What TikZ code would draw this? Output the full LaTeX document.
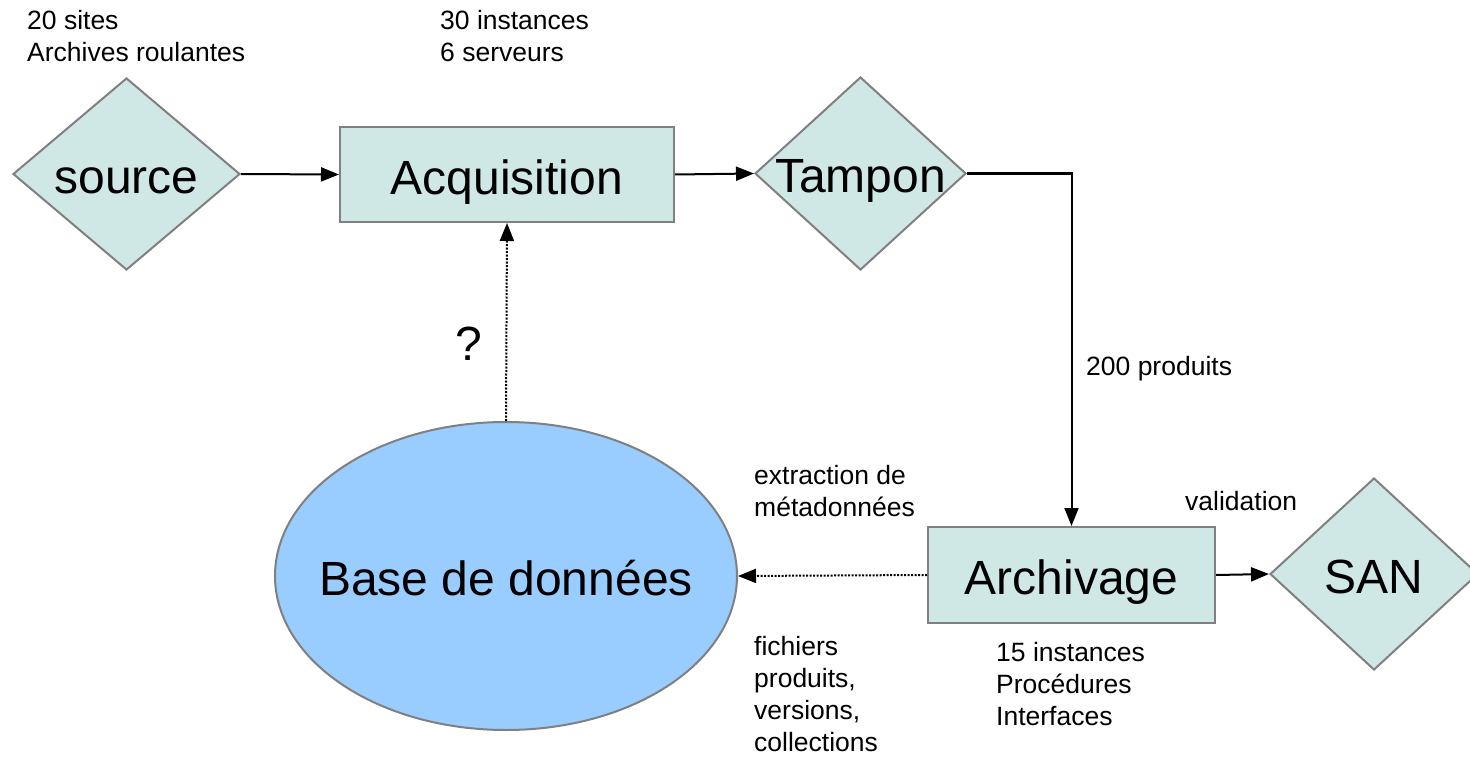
\documentclass[tikz,border=0pt]{standalone}
\usepackage{fontspec}
\setmainfont{Liberation Sans}
\usetikzlibrary{shapes.geometric,arrows.meta}
\definecolor{boxfill}{RGB}{207,231,229}
\definecolor{boxline}{RGB}{128,128,128}
\definecolor{dbfill}{RGB}{153,204,255}
\begin{document}
\begin{tikzpicture}[x=1pt,y=-1pt,
  bigtext/.style={font=\fontsize{48}{55}\selectfont, text height=47pt, text depth=8pt, inner sep=0pt},
  small/.style={font=\fontsize{26.5}{32}\selectfont, align=left, inner sep=0pt, anchor=base west},
  dia/.style={diamond, draw=boxline, fill=boxfill, line width=2pt, inner sep=0pt},
  boxnode/.style={rectangle, draw=boxline, fill=boxfill, line width=2pt, inner sep=0pt, bigtext},
  dbnode/.style={ellipse, draw=boxline, fill=dbfill, line width=2pt, inner sep=0pt},
  arr/.style={-{Triangle[length=18pt,width=14pt]}, line width=2pt, black},
  dotarr/.style={arr, dash pattern=on 2pt off 1.5pt}
]
\useasboundingbox[fill=white] (0,0) rectangle (1470,757);

% shapes
\node[dia, minimum width=227pt, minimum height=192pt, label={[bigtext]center:source}] (src) at (126.5,174) {};
\node[boxnode, minimum width=334pt, minimum height=95pt] (acq) at (507,174.5) {Acquisition};
\node[dia, minimum width=211pt, minimum height=193pt, label={[bigtext]center:Tampon}] (tmp) at (860.5,173.5) {};
\node[dbnode, minimum width=462pt, minimum height=308pt, label={[bigtext]center:Base de données}] (db) at (506,576) {};
\node[boxnode, minimum width=287pt, minimum height=96pt] (arc) at (1071.5,575) {Archivage};
\node[dia, minimum width=208pt, minimum height=192pt, label={[bigtext]center:SAN}] (san) at (1374,574) {};

% connectors
\draw[arr] (src.east) -- (acq.west);
\draw[arr] (acq.east) -- (tmp.west);
\draw[arr] (tmp.east) -| (arc.north);
\draw[dotarr] (db.north) -- (acq.south);
\draw[dotarr] (arc.west) -- (db.east);
\draw[arr] (arc.east) -- (san.west);

% texts (base anchor = baseline of the last line)
\node[small] (t1) at (27,61.5) {20 sites\\Archives roulantes};
\node[small] (t2) at (440,61.3) {30 instances\\6 serveurs};
\node[small] (t3) at (1086,375.7) {200 produits};
\node[inner sep=0pt, anchor=base west, font=\fontsize{48}{55}\selectfont] (q) at (455,360) {?};
\node[small] (t4) at (754,516.7) {extraction de\\métadonnées};
\node[small] (t5) at (1185,510.7) {validation};
\node[small] (t6) at (754,751) {fichiers\\produits,\\versions,\\collections};
\node[small] (t7) at (996,725) {15 instances\\Procédures\\Interfaces};
\end{tikzpicture}
\end{document}
